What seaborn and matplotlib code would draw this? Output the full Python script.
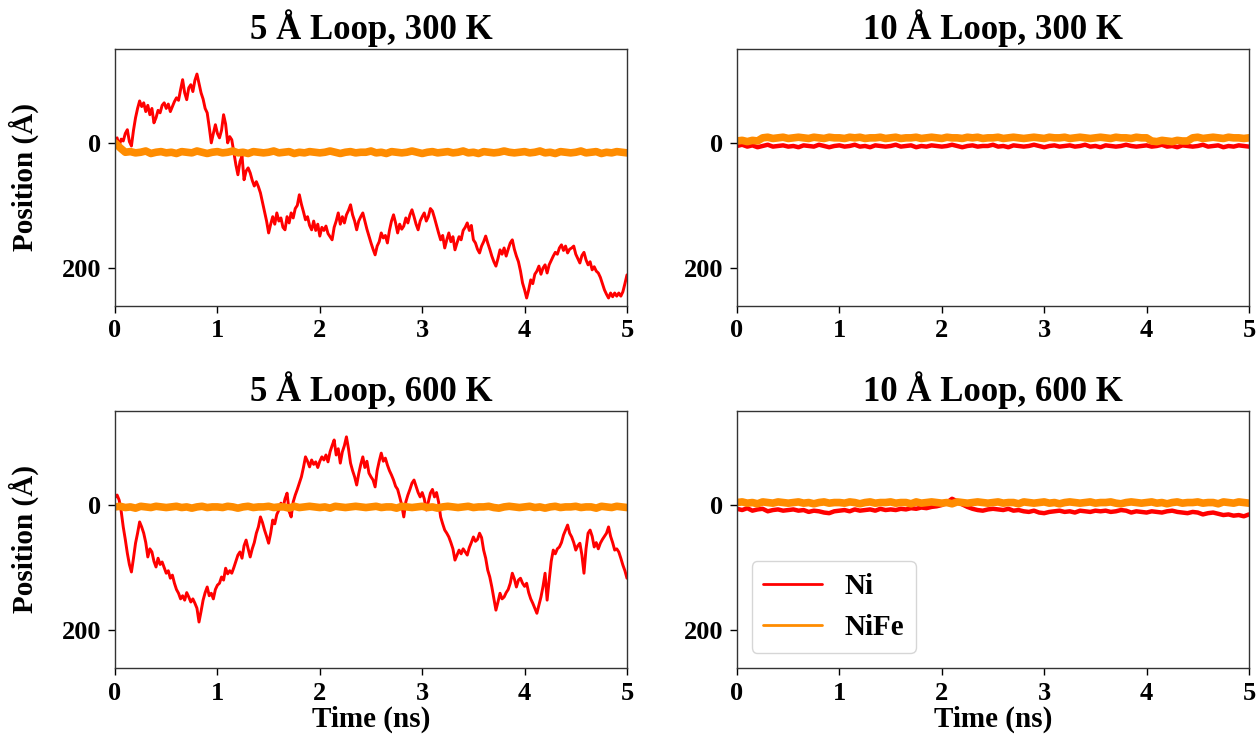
import numpy as np
import matplotlib
matplotlib.use("Agg")
import matplotlib.pyplot as plt
import seaborn as sns

# ---------------- data ----------------
# sample clocks (ns)
time_fine = np.linspace(0, 5, 251)     # 0.02 ns spacing
time_coarse = np.linspace(0, 5, 101)   # 0.05 ns spacing

# 5 Å loop, 300 K  (0.02 ns grid)
ni_5A_300K = [
    0, -8, 5, -6, -3, -15, -21, -2, 5, -20,
    -40, -55, -67, -58, -64, -50, -60, -45, -55, -32,
    -40, -52, -48, -60, -64, -55, -62, -50, -58, -66,
    -72, -68, -85, -101, -80, -69, -88, -93, -82, -100,
    -110, -95, -80, -70, -55, -48, -25, 0, -15, -29,
    -15, -8, -20, -45, -30, 0, -10, -5, 15, 35,
    51, 30, 21, 59, 45, 40, 48, 60, 69, 62,
    70, 80, 95, 110, 125, 144, 130, 118, 130, 112,
    125, 120, 135, 139, 118, 128, 112, 120, 105, 100,
    83, 98, 110, 123, 118, 132, 139, 125, 140, 130,
    149, 135, 140, 133, 145, 150, 155, 135, 125, 112,
    130, 118, 128, 115, 108, 99, 115, 125, 139, 125,
    118, 112, 125, 138, 149, 160, 170, 179, 165, 158,
    144, 152, 148, 160, 140, 125, 115, 128, 144, 130,
    138, 133, 120, 128, 115, 107, 118, 130, 139, 125,
    118, 112, 125, 118, 105, 109, 120, 132, 144, 155,
    148, 168, 155, 144, 158, 150, 171, 160, 150, 155,
    140, 135, 128, 140, 132, 155, 160, 170, 176, 165,
    158, 149, 160, 170, 181, 190, 197, 185, 171, 178,
    168, 181, 170, 160, 155, 170, 181, 190, 205, 224,
    235, 248, 235, 219, 225, 210, 205, 197, 210, 200,
    195, 208, 195, 188, 181, 175, 178, 168, 163, 172,
    165, 176, 170, 168, 165, 178, 185, 192, 180, 175,
    187, 195, 190, 203, 198, 205, 208, 215, 225, 235,
    242, 248, 240, 246, 240, 245, 240, 245, 238, 225,
    211,
]

# 5 Å loop, 600 K  (0.02 ns grid)
ni_5A_600K = [
    -12, -16, -8, 10, 35, 55, 77, 95, 107, 85,
    61, 45, 27, 35, 45, 60, 83, 70, 75, 90,
    99, 85, 95, 91, 100, 109, 105, 117, 112, 125,
    135, 141, 150, 145, 152, 140, 147, 155, 150, 157,
    165, 187, 170, 152, 140, 131, 145, 141, 150, 135,
    128, 125, 115, 120, 101, 110, 105, 109, 100, 90,
    80, 75, 85, 65, 56, 70, 83, 70, 60, 45,
    35, 19, 28, 40, 50, 61, 45, 24, 30, 15,
    8, -3, 5, -10, -19, 10, 19, -5, -16, -25,
    -35, -45, -60, -77, -70, -61, -72, -65, -69, -60,
    -70, -77, -72, -80, -69, -85, -95, -104, -80, -90,
    -67, -85, -95, -109, -90, -67, -55, -45, -32, -50,
    -65, -77, -60, -70, -51, -45, -40, -29, -55, -70,
    -83, -70, -75, -64, -55, -48, -40, -30, -25, -13,
    0, 19, -5, -16, -25, -35, -40, -30, -20, -13,
    -20, -10, 8, -5, -19, -25, -13, -20, -5, 19,
    30, 40, 45, 51, 60, 70, 88, 80, 72, 78,
    70, 75, 80, 68, 60, 51, 58, 55, 45, 52,
    72, 85, 104, 115, 131, 150, 168, 155, 141, 150,
    147, 140, 135, 125, 109, 118, 131, 120, 117, 125,
    130, 125, 140, 150, 157, 165, 173, 160, 147, 130,
    109, 152, 120, 90, 72, 78, 70, 67, 60, 48,
    40, 32, 45, 51, 60, 72, 65, 61, 80, 109,
    70, 45, 40, 50, 67, 60, 70, 61, 55, 50,
    45, 35, 50, 60, 72, 70, 75, 85, 96, 105,
    117,
]

# NiFe, 5 Å loop, 300 K (0.05 ns grid)
nife_5A_300K = [
    0, 8, 15, 14, 16, 15, 13, 17, 15, 14,
    16, 15, 17, 14, 15, 16, 13, 15, 17, 15,
    14, 16, 15, 13, 16, 15, 17, 14, 15, 16,
    15, 13, 16, 15, 14, 17, 15, 16, 14, 15,
    16, 15, 13, 15, 17, 15, 14, 16, 15, 15,
    13, 16, 15, 17, 14, 15, 16, 15, 13, 15,
    17, 15, 14, 16, 15, 14, 16, 15, 13, 16,
    15, 17, 14, 15, 16, 15, 13, 15, 16, 15,
    14, 16, 15, 13, 16, 15, 17, 14, 15, 16,
    15, 13, 16, 15, 14, 17, 15, 16, 14, 15,
    16,
]

# NiFe, 5 Å loop, 600 K (0.05 ns grid)
nife_5A_600K = [
    3, 2, 4, 3, 5, 2, 3, 4, 2, 3,
    4, 3, 2, 4, 3, 5, 3, 2, 4, 3,
    3, 4, 2, 3, 5, 3, 2, 4, 3, 3,
    2, 4, 3, 3, 5, 2, 4, 3, 2, 3,
    4, 3, 5, 2, 3, 4, 3, 2, 3, 4,
    3, 2, 4, 3, 3, 5, 2, 3, 4, 3,
    2, 4, 3, 5, 3, 2, 3, 4, 3, 2,
    4, 3, 3, 2, 4, 5, 3, 2, 3, 4,
    3, 2, 4, 3, 5, 3, 2, 4, 3, 3,
    2, 4, 3, 3, 5, 2, 3, 4, 2, 3,
    4,
]

# Ni, 10 Å loop, 300 K (0.05 ns grid)
ni_10A_300K = [
    5, 3, 6, 4, 7, 5, 3, 6, 5, 4,
    6, 5, 7, 4, 5, 6, 3, 5, 7, 5,
    4, 6, 5, 3, 6, 5, 7, 4, 5, 6,
    5, 3, 6, 5, 4, 7, 5, 6, 4, 5,
    6, 5, 3, 5, 7, 5, 4, 6, 5, 5,
    3, 6, 5, 7, 4, 5, 6, 5, 3, 5,
    7, 5, 4, 6, 5, 4, 6, 5, 3, 6,
    5, 7, 4, 5, 6, 5, 3, 5, 6, 5,
    4, 6, 5, 3, 6, 5, 7, 4, 5, 6,
    5, 3, 6, 5, 4, 7, 5, 6, 4, 5,
    6,
]

# NiFe, 10 Å loop, 300 K (0.05 ns grid)
nife_10A_300K = [
    -3, -4, -2, -4, -3, -8, -9, -7, -8, -9,
    -7, -8, -9, -8, -7, -9, -8, -7, -9, -8,
    -8, -7, -9, -8, -9, -7, -8, -8, -9, -7,
    -8, -9, -7, -8, -8, -9, -7, -8, -9, -8,
    -7, -9, -8, -8, -7, -9, -8, -9, -7, -8,
    -8, -9, -7, -8, -9, -8, -7, -8, -9, -8,
    -7, -9, -8, -8, -9, -7, -8, -9, -8, -7,
    -8, -9, -8, -7, -9, -8, -8, -7, -9, -8,
    -8, -3, -2, -4, -3, -2, -4, -3, -3, -8,
    -9, -7, -8, -9, -8, -7, -9, -8, -8, -7,
    -8,
]

# Ni, 10 Å loop, 600 K (0.05 ns grid)
ni_10A_600K = [
    6, 8, 5, 9, 7, 6, 10, 8, 7, 9,
    8, 7, 9, 8, 11, 9, 10, 12, 13, 10,
    9, 8, 10, 7, 9, 8, 7, 9, 6, 8,
    7, 8, 6, 7, 5, 6, 4, 5, 3, 2,
    0, -4, -10, -6, -1, 3, 6, 8, 9, 7,
    6, 7, 8, 6, 9, 8, 10, 11, 9, 12,
    13, 11, 10, 9, 11, 10, 12, 9, 10, 11,
    9, 10, 9, 11, 10, 8, 9, 12, 10, 11,
    12, 10, 11, 12, 10, 9, 11, 12, 13, 11,
    12, 15, 13, 12, 14, 16, 15, 17, 16, 18,
    15,
]

# NiFe, 10 Å loop, 600 K (0.05 ns grid)
nife_10A_600K = [
    -4, -5, -3, -4, -2, -5, -4, -3, -5, -4,
    -3, -4, -5, -3, -4, -2, -4, -5, -3, -4,
    -4, -3, -5, -4, -2, -4, -5, -3, -4, -4,
    -5, -3, -4, -4, -2, -5, -3, -4, -5, -4,
    -3, -4, -2, -5, -4, -3, -4, -5, -4, -3,
    -4, -5, -3, -4, -4, -2, -5, -4, -3, -4,
    -5, -3, -4, -2, -4, -5, -4, -3, -4, -5,
    -3, -4, -4, -5, -3, -2, -4, -5, -4, -3,
    -4, -5, -3, -4, -2, -4, -5, -3, -4, -4,
    -5, -3, -4, -4, -2, -5, -4, -3, -5, -4,
    -3,
]

panel_titles = ["5 Å Loop, 300 K", "10 Å Loop, 300 K",
                "5 Å Loop, 600 K", "10 Å Loop, 600 K"]
series_labels = ["Ni", "NiFe"]
x_ticks = [0, 1, 2, 3, 4, 5]
y_ticks = [0, 200]
x_label = "Time (ns)"
y_label = "Position (Å)"

# ---------------- style ----------------
sns.set_style("ticks")
plt.rcParams["font.family"] = ["Liberation Serif", "DejaVu Serif"]
plt.rcParams["font.weight"] = "bold"
plt.rcParams["axes.titleweight"] = "bold"
plt.rcParams["axes.labelweight"] = "bold"
plt.rcParams["axes.edgecolor"] = "#333333"
plt.rcParams["axes.linewidth"] = 1.0
plt.rcParams["text.color"] = "black"
plt.rcParams["axes.labelcolor"] = "black"
plt.rcParams["xtick.color"] = "black"
plt.rcParams["ytick.color"] = "black"

NI_COLOR = "#ff0000"
NIFE_COLOR = "#ff8c00"

fig, axes = plt.subplots(2, 2, figsize=(12.56, 7.36), dpi=100)
fig.subplots_adjust(left=0.0916, right=0.9944, top=0.9334, bottom=0.0928,
                    wspace=0.215, hspace=0.412)

panels = [
    (axes[0, 0], (time_fine, ni_5A_300K, 2.1), (time_coarse, nife_5A_300K, 5.5)),
    (axes[0, 1], (time_coarse, ni_10A_300K, 3.2), (time_coarse, nife_10A_300K, 5.5)),
    (axes[1, 0], (time_fine, ni_5A_600K, 2.1), (time_coarse, nife_5A_600K, 5.5)),
    (axes[1, 1], (time_coarse, ni_10A_600K, 3.2), (time_coarse, nife_10A_600K, 5.5)),
]

for i, (ax, ni, nife) in enumerate(panels):
    sns.lineplot(x=ni[0], y=ni[1], ax=ax, color=NI_COLOR, linewidth=ni[2],
                 estimator=None, sort=False, label=series_labels[0], legend=False)
    sns.lineplot(x=nife[0], y=nife[1], ax=ax, color=NIFE_COLOR, linewidth=nife[2],
                 estimator=None, sort=False, label=series_labels[1], legend=False)
    ax.set_xlim(0, 5)
    ax.set_ylim(260, -150)
    ax.set_xticks(x_ticks)
    ax.set_yticks(y_ticks)
    ax.tick_params(labelsize=19, width=1.0, length=5, pad=5, colors="black")
    for lab in ax.get_xticklabels() + ax.get_yticklabels():
        lab.set_fontweight("bold")
    ax.set_title(panel_titles[i], fontsize=25, fontweight="bold", pad=7)
    ax.set_xlabel(x_label if i >= 2 else "", fontsize=21, fontweight="bold", labelpad=1)
    ax.set_ylabel(y_label if i % 2 == 0 else "", fontsize=21, fontweight="bold",
                  labelpad=16)

leg_ax = axes[1, 1]
handles, labels = leg_ax.get_legend_handles_labels()
leg = leg_ax.legend(handles, labels, loc="lower left",
                    prop={"weight": "bold", "size": 21}, frameon=True)
for ln in leg.get_lines():
    ln.set_linewidth(2.0)

fig.savefig("out.png", dpi=100)
